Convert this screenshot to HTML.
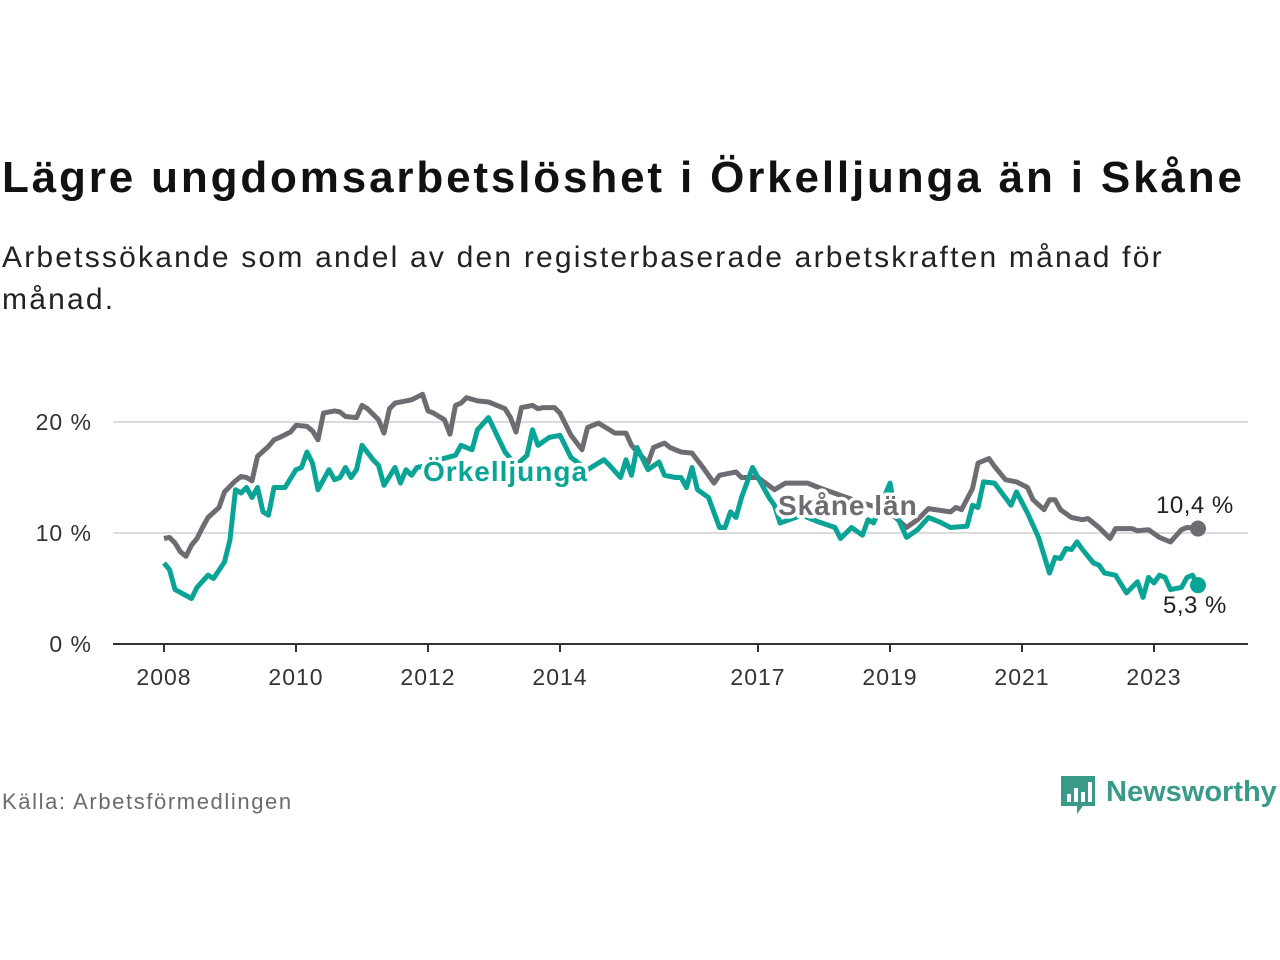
<!DOCTYPE html>
<html><head><meta charset="utf-8"><style>
body{margin:0;background:#fff;width:1280px;height:960px;overflow:hidden;font-family:"Liberation Sans",sans-serif}
.t{position:absolute;left:2px;top:153px;font-size:44px;font-weight:bold;color:#111;letter-spacing:2.85px;white-space:nowrap}
.s{position:absolute;left:2px;top:237px;font-size:30px;line-height:42px;color:#222;width:1200px;letter-spacing:2.2px}
.f{position:absolute;left:2px;top:789px;font-size:22px;color:#6b6b6b;letter-spacing:1.6px}
</style></head><body>
<div class="t">Lägre ungdomsarbetslöshet i Örkelljunga än i Skåne</div>
<div class="s">Arbetssökande som andel av den registerbaserade arbetskraften månad för månad.</div>
<div class="f">Källa: Arbetsförmedlingen</div>
<svg style="position:absolute;left:1058px;top:772px" width="222" height="48">
<path d="M3 4h34v30h-12l-6 8v-8H3z" fill="#3a9a8a"/>
<rect x="9" y="22" width="4" height="8" fill="#fff"/><rect x="16" y="16" width="4" height="14" fill="#fff"/><rect x="23" y="20" width="4" height="10" fill="#fff"/><rect x="30" y="10" width="4" height="20" fill="#fff"/>
<text x="48" y="29" font-size="29" font-weight="bold" fill="#3a9a8a" font-family="Liberation Sans, sans-serif">Newsworthy</text>
</svg>
<svg id="c" style="position:absolute;left:0;top:0" width="1280" height="960"></svg>
<script>
const yTicks=[0,10,20];
const yTickLabels=["0 %","10 %","20 %"];
const xTickYears=[2008,2010,2012,2014,2017,2019,2021,2023];
const monthsS=[0,1,2,3,4,5,6,7,8,10,11,13,14,15,16,17,19,20,21,23,24,26,27,28,29,31,32,33,35,36,37,39,40,41,42,44,45,47,48,49,51,52,53,54,55,57,59,60,62,63,64,65,66,67,68,69,71,72,74,76,77,79,82,84,85,88,89,91,92,94,96,98,100,101,103,104,105,108,111,113,117,119,123,127,131,133,135,137,139,143,144,145,147,148,150,151,153,155,157,158,160,161,162,163,165,167,168,170,172,173,176,177,179,181,183,185,186,188];
const valuesS=[9.5,9.6,9.1,8.3,7.9,8.9,9.5,10.5,11.4,12.3,13.7,14.7,15.1,15.0,14.7,16.9,17.8,18.4,18.6,19.1,19.7,19.6,19.2,18.4,20.8,21.0,20.9,20.5,20.4,21.5,21.2,20.2,19.0,21.2,21.7,21.9,22.0,22.5,21.0,20.8,20.2,18.9,21.5,21.7,22.2,21.9,21.8,21.6,21.2,20.4,19.1,21.3,21.4,21.5,21.2,21.3,21.3,20.8,18.8,17.5,19.5,19.9,19.0,19.0,17.9,16.3,17.7,18.1,17.7,17.3,17.2,15.9,14.5,15.2,15.4,15.5,15.0,15.0,13.9,14.5,14.5,14.1,13.4,12.7,12.1,11.4,10.5,11.2,12.2,11.9,12.3,12.1,14.0,16.3,16.7,16.0,14.8,14.6,14.1,13.0,12.1,13.0,13.0,12.1,11.4,11.2,11.3,10.5,9.5,10.4,10.4,10.2,10.3,9.6,9.2,10.3,10.5,10.4];
const monthsO=[0,1,2,5,6,8,9,11,12,13,14,15,16,17,18,19,20,22,24,25,26,27,28,29,30,31,32,33,34,35,36,38,39,40,42,43,44,45,46,48,50,53,54,56,57,59,62,64,66,67,68,70,72,74,77,80,81,83,84,85,86,88,90,91,93,94,95,96,97,99,101,102,103,104,105,107,108,110,111,112,116,119,122,123,125,127,128,129,132,133,135,137,139,141,143,146,147,148,149,151,154,155,157,159,161,162,163,164,165,166,167,169,170,171,173,175,177,178,179,180,181,182,183,185,186,187,188];
const valuesO=[7.3,6.7,4.9,4.1,5.1,6.2,5.9,7.4,9.4,13.9,13.6,14.1,13.2,14.1,11.9,11.6,14.1,14.1,15.7,15.9,17.3,16.3,13.9,14.8,15.7,14.8,15.0,15.9,15.0,15.7,17.9,16.6,16.1,14.3,15.9,14.5,15.7,15.2,15.9,16.1,16.6,17.0,17.9,17.5,19.3,20.4,17.3,16.1,17.0,19.3,17.9,18.6,18.8,16.8,15.7,16.6,16.1,15.0,16.6,15.2,17.7,15.7,16.4,15.2,15.0,15.0,14.1,15.9,13.9,13.2,10.5,10.5,11.9,11.4,13.2,15.9,15.0,13.2,12.5,10.9,11.6,11.0,10.5,9.5,10.5,9.8,11.2,10.9,14.5,11.8,9.6,10.3,11.4,11.0,10.5,10.6,12.5,12.3,14.6,14.5,12.5,13.7,11.8,9.6,6.4,7.8,7.7,8.6,8.5,9.2,8.5,7.3,7.1,6.4,6.2,4.6,5.6,4.2,6.0,5.5,6.2,6.0,4.9,5.1,6.0,6.2,5.3];
const svg=document.getElementById('c');const NS='http://www.w3.org/2000/svg';
const X=m=>164+m*5.5;const XY=y=>164+(y-2008)*66;const Y=v=>644-v*11.1;
function el(t,a,p){const e=document.createElementNS(NS,t);for(const k in a)e.setAttribute(k,a[k]);(p||svg).appendChild(e);return e;}
yTicks.forEach((v,i)=>{
 if(v>0){const g=el('line',{x1:113,x2:1248,y1:Y(v),y2:Y(v),stroke:'#dcdcdc','stroke-width':2});
 
 }
 const t=el('text',{x:92,y:Y(v)+8,'text-anchor':'end','font-size':23,fill:'#333','letter-spacing':1});t.textContent=yTickLabels[i];
 
 
});
const ax=el('line',{x1:113,x2:1248,y1:644,y2:644,stroke:'#333','stroke-width':2});


xTickYears.forEach(yr=>{
 el('line',{x1:XY(yr),x2:XY(yr),y1:644,y2:652,stroke:'#333','stroke-width':2});
 const t=el('text',{x:XY(yr),y:685,'text-anchor':'middle','font-size':23,fill:'#333','letter-spacing':1});t.textContent=yr;
 
 
});
function line(ms,vs,col,name){
 const d=ms.map((m,i)=>(i?'L':'M')+X(m).toFixed(1)+' '+Y(vs[i]).toFixed(1)).join('');
 const p=el('path',{d:d,fill:'none',stroke:col,'stroke-width':5,'stroke-linejoin':'round'});
 
 
 const n=ms.length-1;
 const c=el('circle',{cx:X(ms[n]),cy:Y(vs[n]),r:8,fill:col});
 
 
}
line(monthsS,valuesS,'#6e6c72','skane-line');
line(monthsO,valuesO,'#0aa496','orkelljunga-line');
function lab(x,y,txt,col,fs,name,bold,ls){
 const t=el('text',{x:x,y:y,'font-size':fs,fill:col,'font-weight':bold?'bold':'normal',stroke:'#fff','stroke-width':bold?7:5,'paint-order':'stroke','stroke-linejoin':'round','letter-spacing':ls});
 t.textContent=txt;
 
 
}
lab(423,481,'Örkelljunga','#0aa496',28,'orkelljunga-label',true,1);
lab(778,515,'Skåne län','#6e6c72',28,'skane-label',true,1);
lab(1156,513,'10,4 %','#222',24,'skane-end-value',false,0.5);
lab(1163,613,'5,3 %','#222',24,'orkelljunga-end-value',false,0.5);
</script>
</body></html>
